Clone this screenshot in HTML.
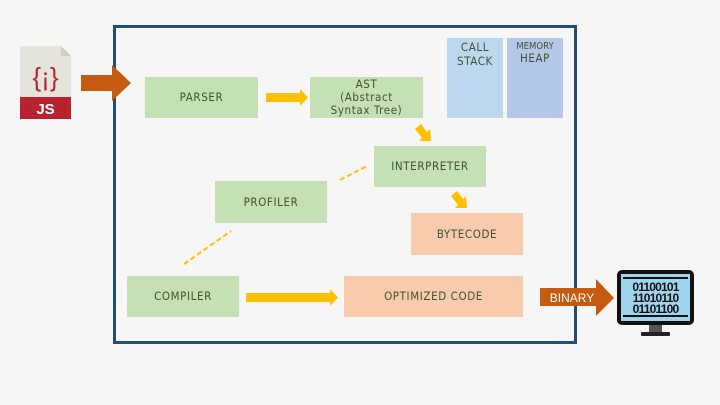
<!DOCTYPE html>
<html><head><meta charset="utf-8"><style>
html,body{margin:0;padding:0;background:#f6f6f6;}
svg{display:block;}
text{font-family:"DejaVu Sans Condensed","Liberation Sans",sans-serif;fill:#3f5232;font-size:11.5px;letter-spacing:0.6px;text-anchor:middle;}
</style></head><body>
<svg width="720" height="405" viewBox="0 0 720 405">
<rect x="0" y="0" width="720" height="405" fill="#f6f6f6"/>
<rect x="114.5" y="26.5" width="461" height="316" fill="none" stroke="#1f4e79" stroke-width="3"/>
<path d="M20 46 H61 L71 56 V118 H20 Z" fill="#e4e4da"/>
<path d="M61 46 L71 56 H61 Z" fill="#cfcfc4"/>
<rect x="20" y="97" width="51" height="22" fill="#b8232f"/>
<text x="45.5" y="114" style="fill:#fff;font-weight:bold;font-size:15px;font-family:'Liberation Sans',sans-serif;letter-spacing:0">JS</text>
<text x="45.5" y="86" style="fill:#b8232f;font-size:26px;font-family:'Liberation Sans',sans-serif;letter-spacing:0">{¡}</text>
<polygon points="81,75 112,75 112,65 131,83 112,101 112,91 81,91" fill="#c55a11"/>
<rect x="145" y="77" width="113" height="41" fill="#c5e0b4"/>
<text x="201.5" y="101">PARSER</text>
<rect x="310" y="77" width="113" height="41" fill="#c5e0b4"/>
<text x="366.5" y="88">AST</text>
<text x="366.5" y="101">(Abstract</text>
<text x="366.5" y="114">Syntax Tree)</text>
<rect x="447" y="38" width="56" height="80" fill="#bdd7ee"/>
<text x="475" y="51">CALL</text>
<text x="475" y="65">STACK</text>
<rect x="507" y="38" width="56" height="80" fill="#b4c7e7"/>
<text x="535" y="49" style="font-size:9.5px;letter-spacing:0">MEMORY</text>
<text x="535" y="62">HEAP</text>
<rect x="374" y="146" width="112" height="41" fill="#c5e0b4"/>
<text x="430" y="170">INTERPRETER</text>
<rect x="215" y="181" width="112" height="42" fill="#c5e0b4"/>
<text x="271" y="206">PROFILER</text>
<rect x="411" y="213" width="112" height="42" fill="#f8cbad"/>
<text x="467" y="238">BYTECODE</text>
<rect x="127" y="276" width="112" height="41" fill="#c5e0b4"/>
<text x="183" y="300">COMPILER</text>
<rect x="344" y="276" width="179" height="41" fill="#f8cbad"/>
<text x="433.5" y="300">OPTIMIZED CODE</text>
<polygon points="266,93 300,93 300,89 308,97.5 300,106 300,102 266,102" fill="#ffc000"/>
<polygon points="246,293 330,293 330,289 338,297.5 330,306 330,302 246,302" fill="#ffc000"/>
<polygon points="415,129 421,124 427,132 430,129 431,141 419,141 422,138" fill="#ffc000"/>
<polygon points="451,196 457,191 463,199 466,196 467,208 455,208 458,205" fill="#ffc000"/>
<line x1="340" y1="180" x2="367" y2="166" stroke="#ffc000" stroke-width="2" stroke-dasharray="5,3"/>
<line x1="184" y1="264" x2="231" y2="231" stroke="#ffc000" stroke-width="2" stroke-dasharray="5,3"/>
<polygon points="540,288 596,288 596,279 614,298 596,316 596,306 540,306" fill="#c55a11"/>
<text x="572" y="302" style="fill:#fff;font-size:12px;font-family:'Liberation Sans',sans-serif;letter-spacing:0">BINARY</text>
<rect x="617" y="270" width="77" height="55" rx="5" fill="#111"/>
<rect x="621" y="274" width="69" height="47" fill="#9fd4ef"/>
<rect x="623" y="277" width="65" height="2" fill="#111"/>
<rect x="623" y="315" width="65" height="2" fill="#111"/>
<text x="655.5" y="291" style="fill:#111;font-weight:bold;font-size:12px;letter-spacing:-0.8px;font-family:'Liberation Sans',sans-serif">01100101</text>
<text x="655.5" y="302" style="fill:#111;font-weight:bold;font-size:12px;letter-spacing:-0.8px;font-family:'Liberation Sans',sans-serif">11010110</text>
<text x="655.5" y="313" style="fill:#111;font-weight:bold;font-size:12px;letter-spacing:-0.8px;font-family:'Liberation Sans',sans-serif">01101100</text>
<rect x="649" y="325" width="13" height="7" fill="#555"/>
<rect x="641" y="332" width="29" height="4" rx="1" fill="#222"/>
</svg>
</body></html>
